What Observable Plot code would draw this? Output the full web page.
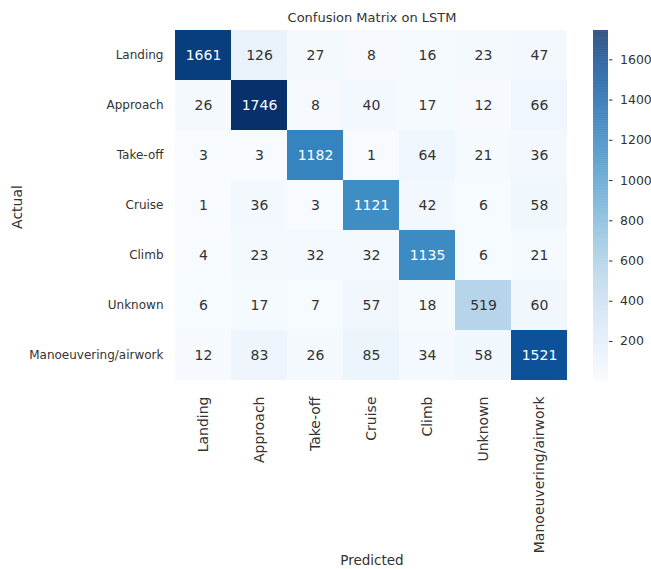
<!DOCTYPE html>
<html><head><meta charset="utf-8">
<script src="https://cdn.jsdelivr.net/npm/d3@7"></script>
<script src="https://cdn.jsdelivr.net/npm/@observablehq/plot@0.6"></script>
<style>
body{margin:0;background:#fff;font-family:"DejaVu Sans",sans-serif;}
#wrap{position:relative;width:651px;height:569px;background:#fff;overflow:hidden;}
#wrap svg{position:absolute;top:0;}
.lbl{position:absolute;color:#333;white-space:nowrap;font-family:"DejaVu Sans",sans-serif;line-height:1;}
</style></head>
<body><div id="wrap"></div>
<script>
const title = "Confusion Matrix on LSTM";
const xTitle = "Predicted";
const yTitle = "Actual";
const classes = ["Landing","Approach","Take-off","Cruise","Climb","Unknown","Manoeuvering/airwork"];
const rowLanding  = [1661, 126,   27,    8,   16,  23,   47];
const rowApproach = [  26,1746,    8,   40,   17,  12,   66];
const rowTakeoff  = [   3,   3, 1182,    1,   64,  21,   36];
const rowCruise   = [   1,  36,    3, 1121,   42,   6,   58];
const rowClimb    = [   4,  23,   32,   32, 1135,   6,   21];
const rowUnknown  = [   6,  17,    7,   57,   18, 519,   60];
const rowManoeuv  = [  12,  83,   26,   85,   34,  58, 1521];
const colorbarTicks = [200,400,600,800,1000,1200,1400,1600];

const matrix = [rowLanding,rowApproach,rowTakeoff,rowCruise,rowClimb,rowUnknown,rowManoeuv];
const data = [];
matrix.forEach((row,i)=>row.forEach((v,j)=>data.push({actual:classes[i],pred:classes[j],value:v})));
const vmin = d3.min(data,d=>d.value), vmax = d3.max(data,d=>d.value);

function lum(c){
  const r = d3.rgb(c);
  const f = u=>{u/=255;return u<=0.03928?u/12.92:Math.pow((u+0.055)/1.055,2.4);};
  return 0.2126*f(r.r)+0.7152*f(r.g)+0.0722*f(r.b);
}
const isDark = d => lum(d3.interpolateBlues((d.value-vmin)/(vmax-vmin))) <= 0.408;

const W=651,H=569, L=175, R=84, T=30, B=189;
const colorOpt = {type:"linear", scheme:"blues", domain:[vmin,vmax]};

const main = Plot.plot({
  width:W, height:H, marginLeft:L, marginRight:R, marginTop:T, marginBottom:B,
  style:{fontFamily:"DejaVu Sans", fontSize:"12px", color:"#333", background:"transparent"},
  x:{type:"band", domain:classes, padding:0},
  y:{type:"band", domain:classes, padding:0},
  color:colorOpt,
  marks:[
    Plot.cell(data,{x:"pred",y:"actual",fill:"value",inset:0}),
    Plot.text(data.filter(d=>!isDark(d)),{x:"pred",y:"actual",text:d=>String(d.value),fill:"#333",fontSize:14}),
    Plot.text(data.filter(isDark),{x:"pred",y:"actual",text:d=>String(d.value),fill:"white",fontSize:14}),
    Plot.axisX({anchor:"bottom",tickRotate:-90,tickSize:0,tickPadding:16,label:null,fontSize:14,fill:"#333"}),
    Plot.axisY({anchor:"left",tickSize:0,tickPadding:12,label:null,fontSize:12,fill:"#333"})
  ]
});

const steps = d3.range(vmin, vmax, 2);
const bar = Plot.plot({
  width:60, height:H, marginLeft:0, marginRight:45, marginTop:T, marginBottom:B-1,
  style:{fontFamily:"DejaVu Sans", fontSize:"12px", color:"#333", background:"transparent"},
  x:{domain:[0,1], axis:null},
  y:{domain:[vmin,vmax]},
  color:colorOpt,
  marks:[
    Plot.rect(steps,{x1:0,x2:1,y1:d=>d,y2:d=>Math.min(d+2.5,vmax),fill:d=>d}),
    Plot.axisY({anchor:"right",ticks:colorbarTicks,tickFormat:d=>String(d),tickSize:3.5,tickPadding:8,label:null,fontSize:12.5,stroke:"#333"})
  ]
});

const wrap = document.getElementById("wrap");
main.style.left="0px";
bar.style.left="593px";
wrap.appendChild(main);
wrap.appendChild(bar);

function addLabel(text, x, y, size, rot){
  const d = document.createElement("div");
  d.className="lbl"; d.textContent=text;
  d.style.fontSize=size+"px";
  d.style.left=x+"px"; d.style.top=y+"px";
  d.style.transform="translate(-50%,-50%)"+(rot?" rotate("+rot+"deg)":"");
  wrap.appendChild(d);
}
addLabel(title, 372, 17, 13, 0);
addLabel(xTitle, 372, 561, 13.5, 0);
addLabel(yTitle, 17, 207, 14, -90);
</script></body></html>
